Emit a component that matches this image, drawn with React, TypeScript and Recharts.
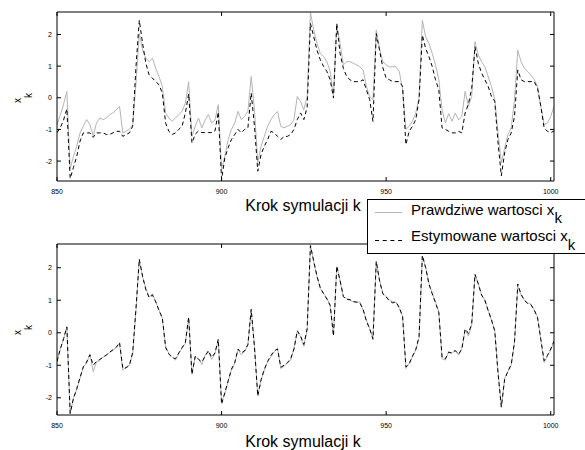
import { LineChart, Line, XAxis, YAxis } from "recharts";

// k runs 850..1001, one sample per step
const K_FIRST = 850;
const X_TICKS = [850, 900, 950, 1000];
const Y_TICKS = [-2, -1, 0, 1, 2];
const X_DOMAIN = [850, 1001];
const Y_DOMAIN_TOP = [-2.63, 2.71];
const Y_DOMAIN_BOT = [-2.53, 2.73];

const TRUE_TOP = [
  -0.85, -0.55, -0.2, 0.2, -2.25, -1.85, -1.53, -1.11, -0.9, -0.69,
  -0.85, -1.2, -0.8, -0.64, -0.69, -0.64, -0.53, -0.48, -0.38, -0.27,
  -1.11, -1.06, -1.0, -0.85, 0.46, 2.03, 1.51, 1.25, 1.14, 1.25,
  0.93, 0.67, 0.36, -0.48, -0.64, -0.74, -0.64, -0.53, -0.43, -0.17,
  0.51, -1.22, -0.9, -0.64, -0.95, -0.7, -0.53, -0.8, -0.7, -0.22,
  -2.26, -1.84, -1.32, -1.0, -0.8, -0.43, -0.69, -0.59, -0.43, 0.67,
  -0.38, -2.05, -1.53, -1.22, -0.9, -0.69, -0.53, -0.43, -0.9, -0.95,
  -0.9, -0.85, -0.69, 0.04, -0.12, -0.38, 0.04, 2.7, 2.14, 1.72,
  1.4, 1.3, 1.14, 0.83, 0.04, 2.3, 1.72, 1.04, 1.14, 1.14,
  1.09, 1.04, 0.98, 0.88, 0.36, 0.04, -0.06, 2.14, 1.56, 1.14,
  1.04, 0.98, 0.98, 0.98, 0.83, 0.25, -1.0, -0.9, -0.74, -0.48,
  0.0, 2.45, 1.93, 1.72, 1.4, 1.04, 0.57, -0.38, -0.8, -0.5,
  -0.74, -0.48, -0.7, -0.59, 0.2, -0.27, 0.04, 1.77, 1.35, 1.14,
  0.98, 0.67, 0.36, -0.06, -1.1, -2.05, -1.59, -1.16, -0.95, -0.06,
  1.5, 1.14, 0.93, 0.83, 0.72, 0.57, 0.36, -0.27, -0.85, -0.8,
  -0.59, -0.27,
];

const EST_TOP = [
  -1.1, -0.95, -0.7, -0.35, -2.55, -2.2, -1.85, -1.37, -1.11, -1.11,
  -1.11, -1.25, -1.11, -1.11, -1.11, -1.16, -1.16, -1.11, -1.06, -1.06,
  -1.22, -1.16, -1.11, -0.9, 0.99, 2.45, 1.72, 1.09, 0.72, 0.62,
  0.51, 0.41, 0.15, -0.8, -1.06, -1.16, -1.11, -1.0, -0.9, -0.48,
  0.12, -1.43, -1.15, -1.05, -1.1, -1.1, -1.1, -1.1, -1.05, -0.45,
  -2.58, -1.9, -1.58, -1.32, -1.16, -1.0, -1.11, -1.0, -0.95, 0.15,
  -0.9, -2.32, -1.79, -1.53, -1.32, -1.06, -1.11, -1.22, -1.32, -1.22,
  -1.22, -1.16, -1.0, -0.69, -0.48, -0.69, -0.3, 2.35, 1.93, 1.5,
  1.2, 0.99, 0.83, 0.57, -0.01, 2.35, 1.4, 0.93, 0.67, 0.57,
  0.51, 0.51, 0.51, 0.57, 0.25, -0.06, -0.75, 2.03, 1.5, 0.95,
  0.62, 0.57, 0.51, 0.51, 0.51, 0.36, -1.48, -1.06, -0.9, -0.69,
  -0.06, 1.98, 1.56, 1.3, 0.99, 0.57, 0.25, -0.95, -1.0, -1.06,
  -1.11, -1.11, -1.06, -1.11, -0.48, -0.2, 0.3, 1.61, 1.09, 0.78,
  0.57, 0.36, 0.04, -0.11, -1.43, -2.47, -1.74, -1.32, -1.11, -0.59,
  0.88, 0.57, 0.51, 0.51, 0.51, 0.51, 0.3, -0.27, -0.95, -1.06,
  -1.1, -1.05,
];

const TRUE_BOT = [
  -0.9, -0.5, -0.2, 0.18, -2.5, -2.0, -1.75, -1.4, -1.05, -0.95,
  -0.65, -1.2, -0.9, -0.85, -0.75, -0.7, -0.6, -0.55, -0.45, -0.33,
  -1.15, -1.05, -1.0, -0.65, 0.7, 2.24, 1.72, 1.36, 1.1, 1.2,
  0.95, 0.7, 0.44, -0.43, -0.64, -0.74, -0.84, -0.64, -0.48, -0.33,
  0.44, -1.25, -0.75, -0.79, -0.98, -0.69, -0.58, -0.82, -0.64, -0.23,
  -2.12, -1.87, -1.5, -1.15, -0.94, -0.53, -0.68, -0.58, -0.38, 0.7,
  -0.43, -1.92, -1.46, -1.15, -0.89, -0.74, -0.58, -0.48, -1.1, -1.03,
  -0.94, -0.84, -0.48, 0.03, -0.12, -0.42, 0.08, 2.7, 2.18, 1.72,
  1.36, 1.21, 1.06, 0.85, -0.07, 2.03, 1.62, 1.1, 1.06, 1.0,
  0.95, 0.95, 0.95, 0.7, 0.39, 0.13, -0.17, 2.18, 1.62, 1.21,
  1.12, 1.0, 0.95, 0.95, 0.75, 0.51, -1.1, -0.94, -0.74, -0.53,
  -0.17, 2.35, 2.03, 1.52, 1.21, 0.95, 0.65, -0.8, -0.84, -0.58,
  -0.64, -0.53, -0.69, -0.48, 0.08, -0.1, 0.24, 1.77, 1.52, 1.16,
  1.0, 0.7, 0.39, 0.08, -1.2, -2.3, -1.4, -1.2, -1.0, -0.3,
  1.42, 1.16, 1.0, 0.92, 0.88, 0.7, 0.49, -0.23, -0.92, -0.72,
  -0.53, -0.28,
];

const EST_BOT = [
  -0.88, -0.5, -0.18, 0.18, -2.48, -2.02, -1.72, -1.38, -1.05, -0.9,
  -0.68, -1.0, -0.88, -0.82, -0.75, -0.68, -0.6, -0.52, -0.45, -0.3,
  -1.1, -1.08, -1.0, -0.6, 0.75, 2.26, 1.74, 1.32, 1.08, 1.16,
  0.95, 0.68, 0.46, -0.45, -0.66, -0.76, -0.8, -0.62, -0.46, -0.3,
  0.48, -1.28, -0.72, -0.82, -0.9, -0.72, -0.55, -0.76, -0.62, -0.2,
  -2.2, -1.84, -1.48, -1.12, -0.92, -0.5, -0.62, -0.56, -0.36, 0.72,
  -0.45, -1.95, -1.44, -1.12, -0.88, -0.7, -0.56, -0.5, -1.06, -1.0,
  -0.92, -0.8, -0.5, 0.06, -0.1, -0.36, 0.12, 2.68, 2.2, 1.74,
  1.38, 1.2, 1.04, 0.84, -0.1, 2.05, 1.6, 1.12, 1.02, 1.02,
  0.96, 0.94, 0.92, 0.72, 0.36, 0.12, -0.2, 2.2, 1.6, 1.2,
  1.1, 0.98, 0.92, 0.94, 0.78, 0.5, -1.05, -0.96, -0.72, -0.52,
  -0.12, 2.38, 2.0, 1.5, 1.2, 0.92, 0.62, -0.76, -0.8, -0.6,
  -0.62, -0.55, -0.66, -0.5, 0.12, -0.02, 0.28, 1.8, 1.5, 1.16,
  1.0, 0.68, 0.4, 0.05, -1.25, -2.28, -1.44, -1.18, -0.98, -0.28,
  1.5, 1.18, 1.0, 0.9, 0.86, 0.7, 0.46, -0.2, -0.86, -0.7,
  -0.5, -0.26,
];

const GRAY = "#b4b4b4";
const FONT = "'Liberation Sans', Arial, Helvetica, sans-serif";

function rows(t: number[], e: number[]) {
  return t.map((v, i) => ({ k: K_FIRST + i, t: v, e: e[i] }));
}

// MATLAB style: ticks point into the box
function BottomTick({ x, y, payload }: any) {
  return (
    <g>
      <line x1={x} y1={y} x2={x} y2={y - 4} stroke="#000" />
      <text x={x} y={y + 12.5} textAnchor="middle" fontSize={7} fontFamily={FONT} fill="#000">
        {payload.value}
      </text>
    </g>
  );
}
function TopTick({ x, y }: any) {
  return <line x1={x} y1={y} x2={x} y2={y + 4} stroke="#000" />;
}
function LeftTick({ x, y, payload }: any) {
  return (
    <g>
      <line x1={x} y1={y} x2={x + 4} y2={y} stroke="#000" />
      <text x={x - 5} y={y + 2.5} textAnchor="end" fontSize={7} fontFamily={FONT} fill="#000">
        {payload.value}
      </text>
    </g>
  );
}
function RightTick({ x, y }: any) {
  return <line x1={x} y1={y} x2={x - 4} y2={y} stroke="#000" />;
}

function Panel({ data, yDomain, height }: { data: any[]; yDomain: number[]; height: number }) {
  const common = { tickSize: 0, tickMargin: 0, tickLine: false, interval: 0 as const, allowDataOverflow: true, axisLine: { stroke: "#000" } };
  return (
    <LineChart width={585} height={height} data={data} margin={{ top: 8, right: 21, bottom: 0, left: 17 }}>
      <XAxis xAxisId="b" dataKey="k" type="number" domain={X_DOMAIN} ticks={X_TICKS} height={20} tick={(p: any) => <BottomTick {...p} />} {...common} />
      <XAxis xAxisId="t" orientation="top" dataKey="k" type="number" domain={X_DOMAIN} ticks={X_TICKS} height={4} tick={(p: any) => <TopTick {...p} />} {...common} />
      <YAxis yAxisId="l" type="number" domain={yDomain} ticks={Y_TICKS} width={40} tick={(p: any) => <LeftTick {...p} />} {...common} />
      <YAxis yAxisId="r" orientation="right" type="number" domain={yDomain} ticks={Y_TICKS} width={10} tick={(p: any) => <RightTick {...p} />} {...common} />
      <Line xAxisId="b" yAxisId="l" type="linear" dataKey="t" stroke={GRAY} strokeWidth={1} dot={false} isAnimationActive={false} />
      <Line xAxisId="t" yAxisId="r" type="linear" dataKey="e" stroke="#000" strokeWidth={1} strokeDasharray="4 3" dot={false} isAnimationActive={false} />
    </LineChart>
  );
}

export default function App() {
  const top = rows(TRUE_TOP, EST_TOP);
  const bot = rows(TRUE_BOT, EST_BOT);
  return (
    <div style={{ position: "absolute", left: 0, top: 0, width: 585, height: 450, background: "#fff", overflow: "hidden" }}>
      <div style={{ position: "absolute", left: 0, top: 0 }}>
        <Panel data={top} yDomain={Y_DOMAIN_TOP} height={201} />
      </div>
      <div style={{ position: "absolute", left: 0, top: 232 }}>
        <Panel data={bot} yDomain={Y_DOMAIN_BOT} height={203} />
      </div>
      <svg width={585} height={450} style={{ position: "absolute", left: 0, top: 0, pointerEvents: "none" }} fontFamily={FONT}>
        <text x={303} y={211} textAnchor="middle" fontSize={16}>Krok symulacji k</text>
        <text x={303} y={447} textAnchor="middle" fontSize={16}>Krok symulacji k</text>
        <text transform="translate(21,103) rotate(-90)" fontSize={10}>
          x<tspan dy={11}>k</tspan>
        </text>
        <text transform="translate(21,335) rotate(-90)" fontSize={10}>
          x<tspan dy={11}>k</tspan>
        </text>

        <rect x={367.5} y={199.5} width={240} height={54} fill="#fff" stroke="#000" />
        <line x1={375} y1={212.5} x2={402} y2={212.5} stroke={GRAY} />
        <text x={411} y={214.5} fontSize={15}>
          Prawdziwe wartosci x<tspan dy={8.5}>k</tspan>
        </text>
        <line x1={375} y1={240.5} x2={402} y2={240.5} stroke="#000" strokeDasharray="4 3.7" />
        <text x={411} y={241} fontSize={15}>
          Estymowane wartosci x<tspan dy={8.5}>k</tspan>
        </text>
      </svg>
    </div>
  );
}
